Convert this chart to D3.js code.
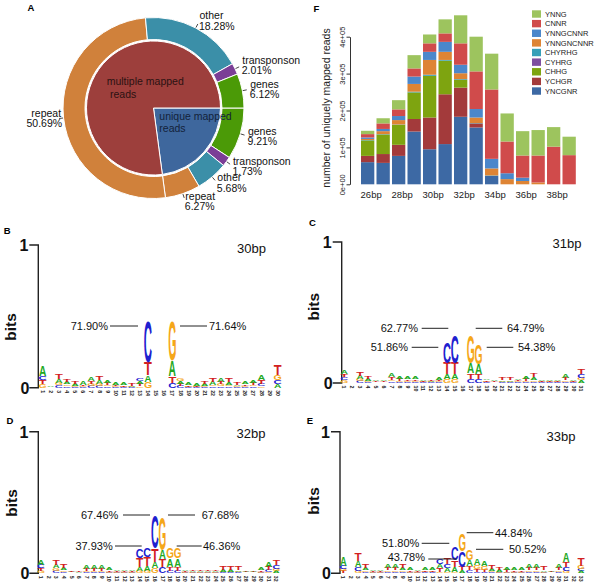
<!DOCTYPE html>
<html><head><meta charset="utf-8">
<script src="https://cdn.jsdelivr.net/npm/d3@7"></script>
<style>
body{margin:0;background:#fff}
svg{display:block}
text{font-family:"Liberation Sans",Arial,Helvetica,sans-serif}
</style>
</head><body>
<svg id="chart" width="600" height="586"></svg>
<script>
// ================= DATA =================
// Panel A
const pieInnerNames = ["unique mapped reads", "multiple mapped reads"];
const pieInnerValues = [22.89, 77.11];
const ringNames = ["genes", "transponson", "other", "repeat", "repeat", "other", "transponson", "genes"];
const ringValues = [9.21, 1.73, 5.68, 6.27, 50.69, 18.28, 2.01, 6.12];

// Panel F
const barCategories = ["26bp","27bp","28bp","29bp","30bp","31bp","32bp","33bp","34bp","35bp","36bp","37bp","38bp","39bp"];
const xTickLabels = ["26bp","28bp","30bp","32bp","34bp","36bp","38bp"];
const seriesNames = ["YNCGNR","YCHGR","CHHG","CYHRG","CHYRHG","YNNGNCNNR","YNNGCNNR","CNNR","YNNG"];
const YNCGNR    = [60000,58000,77000,143000,95000,109000,183000,154000,23000,0,0,0,0,0];
const YCHGR     = [17000,24000,30000,34000,86000,135000,79000,11000,0,0,0,0,0,0];
const CHHG      = [42000,53000,54000,72000,113000,91000,21000,0,0,0,0,0,0,0];
const CYHRG     = [0,0,0,0,0,0,0,0,0,0,0,0,0,0];
const CHYRHG    = [1000,1000,1000,2000,3000,2000,2000,1000,1000,0,0,0,0,0];
const YNNGNCNNR = [3000,8000,12000,21000,40000,22000,16000,15000,19000,14000,9000,5000,0,0];
const YNNGCNNR  = [4000,6000,11000,20000,22000,27000,23000,23000,26000,16000,9000,0,0,0];
const CNNR      = [9000,15000,18000,22000,23000,23000,58000,102000,188000,86000,60000,73000,102000,79000];
const YNNG      = [9000,14000,25000,36000,24000,38000,76000,94000,97000,76000,66000,69000,53000,50000];
const yTickValues = [0,100000,200000,300000,400000];
const yTickLabels = ["0e+00","1e+05","2e+05","3e+05","4e+05"];

// Panels B-E : information content (bits) per position for each base
const bA = [.077,.004,.023,.019,.016,.023,.028,.026,.019,.021,.016,.006,.019,.047,.002,.002,.112,.016,.014,.014,.014,.023,.028,.021,.012,.019,.021,.033,.002,.026];
const bC = [.030,.002,.016,.012,.006,.005,.014,.014,.010,.006,.004,.004,.019,.292,.002,.002,.035,.014,.004,.004,.005,.010,.010,.010,.005,.006,.010,.016,.002,.028];
const bG = [.023,.002,.019,.012,.006,.005,.014,.014,.010,.006,.004,.004,.012,.042,.002,.002,.280,.019,.004,.004,.005,.010,.014,.010,.005,.006,.010,.012,.002,.035];
const bT = [.028,.003,.035,.021,.016,.008,.019,.026,.016,.010,.008,.014,.016,.093,.002,.002,.047,.014,.008,.006,.019,.023,.019,.026,.016,.012,.014,.026,.002,.075];

const cA = [.030,.003,.024,.014,.008,.010,.026,.016,.016,.018,.010,.008,.014,.035,.035,.002,.070,.070,.012,.008,.010,.012,.012,.016,.020,.010,.008,.008,.028,.010,.018];
const cC = [.022,.003,.014,.008,.003,.003,.012,.008,.008,.008,.004,.004,.006,.150,.200,.002,.030,.025,.005,.003,.005,.005,.006,.006,.010,.004,.004,.004,.010,.004,.025];
const cG = [.018,.003,.014,.008,.003,.003,.012,.008,.008,.008,.004,.004,.006,.030,.030,.002,.200,.140,.005,.003,.005,.005,.006,.008,.010,.004,.004,.004,.010,.004,.020];
const cT = [.022,.003,.029,.018,.006,.006,.016,.014,.012,.012,.008,.010,.010,.080,.080,.002,.040,.040,.010,.006,.014,.022,.010,.014,.030,.008,.006,.006,.016,.006,.040];

const dA = [.040,.003,.024,.019,.006,.004,.024,.024,.024,.016,.012,.012,.012,.031,.033,.047,.064,.059,.059,.010,.008,.008,.008,.008,.014,.014,.012,.006,.006,.014,.040,.016];
const dC = [.024,.003,.019,.010,.003,.002,.008,.008,.008,.005,.004,.004,.004,.068,.066,.235,.042,.016,.016,.004,.004,.004,.004,.004,.006,.006,.006,.003,.003,.005,.014,.024];
const dG = [.016,.003,.019,.010,.003,.002,.008,.008,.008,.005,.004,.004,.004,.016,.019,.035,.235,.070,.070,.004,.004,.004,.004,.004,.006,.006,.006,.003,.003,.005,.010,.016];
const dT = [.019,.003,.033,.024,.006,.004,.016,.016,.016,.010,.008,.008,.010,.062,.060,.094,.059,.031,.031,.008,.008,.008,.008,.008,.024,.024,.024,.004,.004,.010,.024,.040];

const eA = [.064,.003,.047,.016,.010,.010,.024,.028,.016,.016,.010,.016,.016,.030,.025,.035,.020,.047,.047,.040,.016,.014,.016,.016,.016,.030,.030,.012,.008,.024,.064,.003,.014];
const eC = [.024,.003,.024,.010,.004,.004,.010,.010,.010,.005,.004,.006,.006,.032,.030,.090,.112,.020,.010,.010,.008,.005,.005,.005,.005,.010,.010,.005,.003,.010,.024,.003,.016];
const eG = [.016,.003,.019,.010,.004,.004,.010,.010,.010,.005,.004,.006,.006,.010,.010,.010,.122,.070,.030,.025,.008,.005,.005,.005,.005,.010,.010,.005,.003,.010,.019,.003,.024];
const eT = [.014,.003,.059,.024,.008,.006,.016,.016,.024,.010,.008,.010,.012,.028,.050,.050,.025,.030,.020,.016,.024,.020,.014,.012,.012,.016,.016,.024,.005,.014,.035,.003,.054];

const bNotes = ["71.90%","71.64%"];
const cNotes = ["62.77%","51.86%","64.79%","54.38%"];
const dNotes = ["67.46%","37.93%","67.68%","46.36%"];
const eNotes = ["51.80%","43.78%","44.84%","50.52%"];

// ================= DRAW =================
const svg = d3.select("#chart");

// ---------- Panel A ----------
(function(){
  const cx = 153.5, cy = 108, rPie = 67, rIn = 68.5, rOut = 90.5;
  const innerColors = ["#3e679d", "#9d3f3c"];
  const ringColor = {repeat:"#d0813b", other:"#3b8fa8", transponson:"#7b3e96", genes:"#4b9a07"};
  const pie = d3.pie().sort(null).startAngle(Math.PI/2).endAngle(Math.PI/2 + 2*Math.PI);
  const g = svg.append("g").attr("transform", `translate(${cx},${cy})`);
  g.selectAll("path.inner").data(pie(pieInnerValues)).join("path")
    .attr("class","inner")
    .attr("d", d3.arc().innerRadius(0).outerRadius(rPie))
    .attr("fill", (d,i)=>innerColors[i]).attr("stroke","#fff").attr("stroke-width",1);
  const ringArcs = pie(ringValues);
  g.selectAll("path.ring").data(ringArcs).join("path")
    .attr("class","ring")
    .attr("d", d3.arc().innerRadius(rIn).outerRadius(rOut))
    .attr("fill", (d,i)=>ringColor[ringNames[i]]).attr("stroke","#fff").attr("stroke-width",1);

  // outer labels with leader ticks
  ringArcs.forEach((d,i)=>{
    const a = (d.startAngle + d.endAngle)/2;
    const s = Math.sin(a), c = -Math.cos(a);
    g.append("line")
      .attr("x1", (rOut+0.5)*s).attr("y1", (rOut+0.5)*c)
      .attr("x2", (rOut+4.5)*s).attr("y2", (rOut+4.5)*c)
      .attr("stroke","#333").attr("stroke-width",0.9);
    const right = s > 0;
    const rr = right ? rOut + 8 : rOut + 2.5;
    const lx = rr*s, ly = rr*c;
    const t = g.append("text").attr("font-size",10.5).attr("fill","#111")
      .attr("text-anchor", right ? "start" : "end");
    t.append("tspan").attr("x", lx).attr("y", ly - 5.25 + 3.7).text(ringNames[i]);
    t.append("tspan").attr("x", lx + (right?-0.5:1)).attr("y", ly + 5.25 + 3.7).text(d3.format(".2f")(ringValues[i]) + "%");
  });
  // inner labels
  const mt = g.append("text").attr("font-size",10.5).attr("fill","#2b1212");
  mt.append("tspan").attr("x",-46.8).attr("y",-26.3+3.7).text("multiple mapped");
  mt.append("tspan").attr("x",-43.5).attr("y",-14+3.7).text("reads");
  const ut = g.append("text").attr("font-size",10.5).attr("fill","#13223a");
  ut.append("tspan").attr("x",5.8).attr("y",8.7+3.7).text("unique mapped");
  ut.append("tspan").attr("x",5.8).attr("y",20.3+3.7).text("reads");

  svg.append("text").attr("x",31).attr("y",10.5).attr("font-size",9.5).attr("font-weight","bold")
    .attr("text-anchor","middle").text("A");
})();

// ---------- Panel F ----------
(function(){
  const colors = {YNCGNR:"#3d69a4", YCHGR:"#a33a3b", CHHG:"#7ea410", CYHRG:"#7e4fa0",
                  CHYRHG:"#37a0b8", YNNGNCNNR:"#de8434", YNNGCNNR:"#4b87cb", CNNR:"#d04b4b", YNNG:"#9dc45e"};
  const series = {YNCGNR, YCHGR, CHHG, CYHRG, CHYRHG, YNNGNCNNR, YNNGCNNR, CNNR, YNNG};
  const rows = barCategories.map((c,i)=>{const o={cat:c}; seriesNames.forEach(k=>o[k]=series[k][i]); return o;});
  const stack = d3.stack().keys(seriesNames)(rows);
  const x = d3.scaleBand().domain(barCategories).range([361, 575.8]).paddingInner(0.142).paddingOuter(0);
  const y = d3.scaleLinear().domain([0,400000]).range([184.3, 36.7]);
  const g = svg.append("g");
  g.selectAll("g.s").data(stack).join("g").attr("fill", d=>colors[d.key])
    .selectAll("rect").data(d=>d).join("rect")
    .attr("x", d=>x(d.data.cat)).attr("width", x.bandwidth())
    .attr("y", d=>y(d[1])).attr("height", d=>Math.max(0, y(d[0])-y(d[1])));

  const ax = g.append("g").attr("transform","translate(350,0)")
    .call(d3.axisLeft(y).tickValues(yTickValues).tickSize(3.5).tickSizeOuter(0)
      .tickFormat((d,i)=>yTickLabels[i]));
  ax.select(".domain").attr("stroke","#333");
  ax.selectAll(".tick line").attr("stroke","#333");
  ax.selectAll(".tick text").attr("transform","rotate(-90)").attr("x",0).attr("y",-5.5)
    .attr("dy",0).attr("text-anchor","middle").attr("font-size",7.5).attr("fill","#222")
    .attr("font-family",'"Liberation Sans",Arial,sans-serif');

  g.append("text").attr("transform","translate(329.5,108) rotate(-90)").attr("text-anchor","middle")
    .attr("font-size",10.5).attr("fill","#222").text("number of uniquely mapped reads");

  g.selectAll("text.xl").data(xTickLabels).join("text").attr("class","xl")
    .attr("x", d=>x(d)+x.bandwidth()/2+3.5).attr("y",197.8).attr("text-anchor","middle")
    .attr("font-size",9.5).attr("fill","#222").text(d=>d);

  const legendOrder = seriesNames.slice().reverse();
  const lg = g.append("g");
  legendOrder.forEach((k,i)=>{
    const yc = 14 + i*9.63;
    lg.append("rect").attr("x",532).attr("y",yc-3.7).attr("width",9).attr("height",7.4).attr("fill",colors[k]);
    lg.append("text").attr("x",545).attr("y",yc+2.7).attr("font-size",7.5).attr("fill","#222").text(k);
  });

  svg.append("text").attr("x",316.5).attr("y",11.5).attr("font-size",9.5).attr("font-weight","bold")
    .attr("text-anchor","middle").text("F");
})();

// ---------- Logos B-E ----------
const letterColor = {A:"#22a822", C:"#2020cf", G:"#f5a71a", T:"#d22020"};
const glyphInk = {A:[0.004,0.714], C:[0.045,0.64], G:[0.045,0.69], T:[0.02,0.57]};

function drawLogo(p, A, C, G, T, notes){
  const n = A.length;
  const g = svg.append("g");
  const x = d3.scaleLinear().domain([1,n]).range([p.x1, p.x1 + (n-1)*p.step]);
  const y = d3.scaleLinear().domain([0,1]).range([p.y0, p.y1]);

  g.append("path").attr("d", `M${p.ax-9},${y(1)}H${p.ax}V${y(0)}H${p.ax-9}`)
    .attr("fill","none").attr("stroke","#222").attr("stroke-width",1.4);
  g.append("text").attr("x",p.ax-10).attr("y",y(1)+5.8).attr("text-anchor","end")
    .attr("font-size",16).attr("font-weight","bold").attr("fill","#111").text("1");
  g.append("text").attr("x",p.ax-9).attr("y",y(0)+5.8).attr("text-anchor","end")
    .attr("font-size",16).attr("font-weight","bold").attr("fill","#111").text("0");
  g.append("text").attr("transform",`translate(${p.bx},${p.by}) rotate(-90)`).attr("text-anchor","middle")
    .attr("dy","0.35em").attr("font-size",15.5).attr("font-weight","bold").attr("fill","#111").text("bits");
  g.append("text").attr("x",p.tx).attr("y",p.ty+4.5).attr("text-anchor","middle")
    .attr("font-size",13).attr("fill","#111").text(p.title);
  svg.append("text").attr("x",p.lx).attr("y",p.ly+3.5).attr("text-anchor","middle")
    .attr("font-size",9.5).attr("font-weight","bold").text(p.letter);

  // position numbers
  g.selectAll("text.pn").data(d3.range(1,n+1)).join("text").attr("class","pn")
    .attr("transform", d=>`translate(${x(d)},${p.y0+2.5}) rotate(90)`)
    .attr("dy","0.35em").attr("font-size",5.2).attr("font-weight","bold").attr("fill","#222").text(d=>d);

  // stacked letters, largest on top
  const cells = [];
  for (let i=0;i<n;i++){
    const arr = [["A",A[i]],["C",C[i]],["G",G[i]],["T",T[i]]].sort((a,b)=>a[1]-b[1]);
    let acc = 0;
    arr.forEach(([l,v])=>{ cells.push({l, v, b:acc, pos:i+1}); acc += v; });
  }
  const w = p.step*0.9;
  g.selectAll("text.let").data(cells).join("text").attr("class","let")
    .attr("font-size",100).attr("font-weight","bold").attr("fill", d=>letterColor[d.l])
    .attr("transform", d=>{
      const h = y(d.b) - y(d.b+d.v);
      const sx = w/(glyphInk[d.l][1]*100), sy = h/71.6;
      const left = x(d.pos) - w/2 - glyphInk[d.l][0]*100*sx;
      return `translate(${left},${y(d.b)}) scale(${sx},${sy})`;
    }).text(d=>d.l);

  // annotations
  p.notes.forEach((a,i)=>{
    g.append("line").attr("x1",a.l1).attr("x2",a.l2).attr("y1",a.ly ?? a.y).attr("y2",a.ly ?? a.y)
      .attr("stroke","#222").attr("stroke-width",1);
    g.append("text").attr("x",a.tx).attr("y",a.y+3.9).attr("text-anchor",a.anchor)
      .attr("font-size",11).attr("fill","#111").text(notes[i]);
  });
}

drawLogo({ax:38.3, y0:387.7, y1:245, x1:42.7, step:8.1, title:"30bp", tx:251.5, ty:248.3,
  bx:11, by:327, letter:"B", lx:7.3, ly:230.5,
  notes:[{y:326,l1:110,l2:138,tx:108,anchor:"end"},{y:326,l1:180,l2:207,tx:209,anchor:"start"}]},
  bA,bC,bG,bT,bNotes);

drawLogo({ax:341.7, y0:383, y1:242, x1:344.3, step:7.9, title:"31bp", tx:567, ty:243,
  bx:313.3, by:306.7, letter:"C", lx:312.5, ly:222,
  notes:[{y:328.3,l1:421.7,l2:448.3,tx:418,anchor:"end"},{y:347.3,l1:411.7,l2:438.3,tx:408,anchor:"end"},
         {y:328.3,l1:475.7,l2:502.3,tx:507,anchor:"start"},{y:347.3,l1:486.7,l2:513.3,tx:518,anchor:"start"}]},
  cA,cC,cG,cT,cNotes);

drawLogo({ax:38.3, y0:573.3, y1:431.7, x1:41, step:7.59, title:"32bp", tx:251, ty:433.3,
  bx:11.7, by:503, letter:"D", lx:10, ly:420,
  notes:[{y:515,l1:123,l2:150,tx:118.3,anchor:"end"},{y:546,l1:115,l2:141.7,tx:112.7,anchor:"end"},
         {y:515,l1:168,l2:195,tx:201.7,anchor:"start"},{y:546,l1:176.7,l2:201.7,tx:203,anchor:"start"}]},
  dA,dC,dG,dT,dNotes);

drawLogo({ax:340, y0:573.3, y1:431.7, x1:343.3, step:7.43, title:"33bp", tx:561, ty:436.7,
  bx:313.3, by:501, letter:"E", lx:310, ly:420,
  notes:[{y:543.3,l1:421.7,l2:449.3,tx:419.3,anchor:"end"},{y:556.7,ly:559,l1:428.3,l2:456.7,tx:425,anchor:"end"},
         {y:532.7,l1:466.7,l2:493.3,tx:495,anchor:"start"},{y:549.3,l1:476,l2:503.3,tx:509,anchor:"start"}]},
  eA,eC,eG,eT,eNotes);
</script>
</body></html>
